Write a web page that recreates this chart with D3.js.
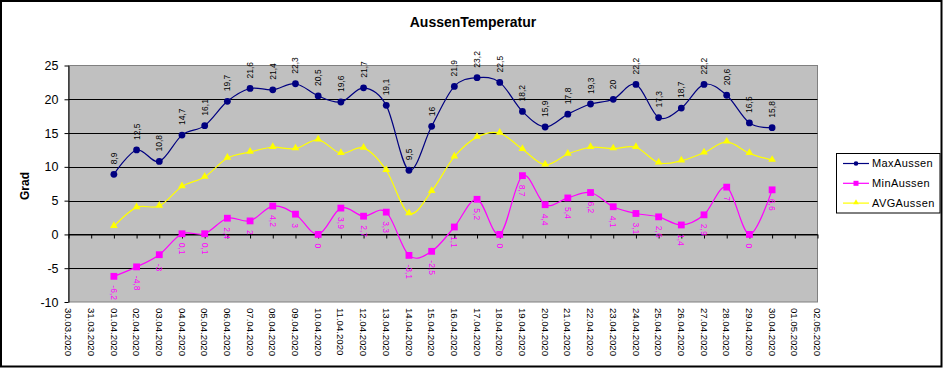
<!DOCTYPE html>
<html>
<head>
<meta charset="utf-8">
<script src="https://cdn.jsdelivr.net/npm/d3@7"></script>
<style>
  html, body { margin: 0; padding: 0; background: #fff; }
  svg { display: block; font-family: "Liberation Sans", Arial, sans-serif; }
</style>
</head>
<body>
<svg id="chart" width="943" height="368"></svg>
<script>
// ---- data ----
const dates = ["30.03.2020","31.03.2020","01.04.2020","02.04.2020","03.04.2020","04.04.2020","05.04.2020","06.04.2020","07.04.2020","08.04.2020","09.04.2020","10.04.2020","11.04.2020","12.04.2020","13.04.2020","14.04.2020","15.04.2020","16.04.2020","17.04.2020","18.04.2020","19.04.2020","20.04.2020","21.04.2020","22.04.2020","23.04.2020","24.04.2020","25.04.2020","26.04.2020","27.04.2020","28.04.2020","29.04.2020","30.04.2020","01.05.2020","02.05.2020"];
const dataDates = dates.slice(2, 32);
const maxAussen = [8.9,12.5,10.8,14.7,16.1,19.7,21.6,21.4,22.3,20.5,19.6,21.7,19.1,9.5,16,21.9,23.2,22.5,18.2,15.9,17.8,19.3,20,22.2,17.3,18.7,22.2,20.6,16.5,15.8];
const minAussen = [-6.2,-4.8,-3,0.1,0.1,2.4,2,4.2,3,0,3.9,2.7,3.3,-3.1,-2.5,1.1,5.2,0,8.7,4.4,5.4,6.2,4.1,3.1,2.6,1.4,2.9,7,0,6.6];
const avgAussen = [1.2,4.0,4.2,7.1,8.5,11.3,12.2,12.9,12.7,14.0,12.0,12.8,9.5,3.1,6.4,11.5,14.4,15.0,12.6,10.3,11.9,12.9,12.7,12.9,10.6,10.9,12.1,13.7,12.0,11.0];
const yTicks = [-10,-5,0,5,10,15,20,25];
const seriesNames = ["MaxAussen","MinAussen","AVGAussen"];
const seriesColors = ["#000080","#FF00FF","#FFFF00"];

// ---- layout ----
const svg = d3.select("#chart");
const L = 68.5, R = 817.5, T = 65.5, B = 302;
const x = d3.scalePoint().domain(dates).range([L, R]);
const y = d3.scaleLinear().domain([-10, 25]).range([B, T]);

// outer frame
svg.append("rect").attr("x", 1).attr("y", 1).attr("width", 940.5).attr("height", 365.5)
  .attr("fill", "#fff").attr("stroke", "#000").attr("stroke-width", 2);

// title
svg.append("text").attr("x", 473).attr("y", 27).attr("text-anchor", "middle")
  .attr("font-size", "14px").attr("font-weight", "bold").text("AussenTemperatur");

// plot area
svg.append("rect").attr("x", L).attr("y", T).attr("width", R - L).attr("height", B - T)
  .attr("fill", "#C0C0C0").attr("stroke", "#808080").attr("stroke-width", 1);

// gridlines
svg.append("g").selectAll("line").data(yTicks.filter(v => v > -10 && v < 25)).join("line")
  .attr("x1", L).attr("x2", R).attr("y1", d => Math.round(y(d)) + 0.5).attr("y2", d => Math.round(y(d)) + 0.5)
  .attr("stroke", "#000").attr("stroke-width", 1);

// y axis
const yAxis = d3.axisLeft(y).tickValues(yTicks).tickSize(4).tickSizeOuter(0).tickPadding(6)
  .tickFormat(d => d);
const gy = svg.append("g").attr("transform", `translate(${L},0)`).call(yAxis);
gy.selectAll("text").attr("font-size", "12.5px").attr("fill", "#000").attr("font-family", "Liberation Sans, Arial, sans-serif");
gy.selectAll("line,path").attr("stroke", "#000");

// x axis line at 0 with tick marks
const y0 = Math.round(y(0)) + 0.5;
const gx = svg.append("g").attr("transform", `translate(0,${y0})`)
  .call(d3.axisBottom(x).tickSize(4).tickSizeOuter(0).tickFormat(""));
gx.selectAll("line,path").attr("stroke", "#000");

// x labels at bottom, rotated
svg.append("g").selectAll("text").data(dates).join("text")
  .attr("transform", d => `translate(${x(d)},${B + 6}) rotate(90)`)
  .attr("dy", "0.35em").attr("font-size", "9.6px").attr("text-anchor", "start")
  .text(d => d);

// y axis title
svg.append("text").attr("transform", "translate(25,186) rotate(-90)")
  .attr("text-anchor", "middle").attr("dy", "0.35em")
  .attr("font-size", "12px").attr("font-weight", "bold").text("Grad");

// lines
const line = d3.line().x((d, i) => x(dataDates[i])).y(d => y(d)).curve(d3.curveCatmullRom.alpha(0));
const seriesData = [maxAussen, minAussen, avgAussen];
// draw order: avg, min, max (max on top)
[2, 1, 0].forEach(s => {
  svg.append("path").datum(seriesData[s]).attr("d", line)
    .attr("fill", "none").attr("stroke", seriesColors[s]).attr("stroke-width", 1.2);
});

const tri = d3.symbol().type(d3.symbolTriangle).size(26);
function drawMarkers(s, g, cx, cy) {
  if (s === 0) g.append("circle").attr("cx", cx).attr("cy", cy).attr("r", 3.4).attr("fill", seriesColors[0]);
  else if (s === 1) g.append("rect").attr("x", cx - 3.4).attr("y", cy - 3.4).attr("width", 6.8).attr("height", 6.8).attr("fill", seriesColors[1]);
  else g.append("path").attr("d", tri()).attr("transform", `translate(${cx},${cy - 0.5})`).attr("fill", seriesColors[2]);
}
[2, 1, 0].forEach(s => {
  const g = svg.append("g");
  seriesData[s].forEach((v, i) => drawMarkers(s, g, x(dataDates[i]), y(v)));
});

const fmt = v => String(v).replace(".", ",");
// max labels
svg.append("g").selectAll("text").data(maxAussen).join("text")
  .attr("transform", (d, i) => `translate(${x(dataDates[i])},${y(d) - 10}) rotate(-90)`)
  .attr("dy", "0.35em").attr("font-size", "8.5px").attr("fill", "#000").text(fmt);
// min labels
svg.append("g").selectAll("text").data(minAussen).join("text")
  .attr("transform", (d, i) => `translate(${x(dataDates[i])},${y(d) + 9}) rotate(90)`)
  .attr("dy", "0.35em").attr("font-size", "8.5px").attr("fill", "#FF00FF").text(fmt);

// legend
const lg = svg.append("g");
lg.append("rect").attr("x", 836.5).attr("y", 153.5).attr("width", 103.5).attr("height", 59.5)
  .attr("fill", "#fff").attr("stroke", "#000").attr("stroke-width", 1);
seriesNames.forEach((n, s) => {
  const ly = 163.5 + s * 19.8;
  lg.append("line").attr("x1", 843).attr("x2", 869).attr("y1", ly).attr("y2", ly)
    .attr("stroke", seriesColors[s]).attr("stroke-width", 1.2);
  if (s === 0) lg.append("circle").attr("cx", 856).attr("cy", ly).attr("r", 2.3).attr("fill", seriesColors[0]);
  else if (s === 1) lg.append("rect").attr("x", 853.5).attr("y", ly - 2.5).attr("width", 5).attr("height", 5).attr("fill", seriesColors[1]);
  else lg.append("path").attr("d", d3.symbol().type(d3.symbolTriangle).size(14)()).attr("transform", `translate(856,${ly - 0.5})`).attr("fill", seriesColors[2]);
  lg.append("text").attr("x", 872).attr("y", ly).attr("dy", "0.35em").attr("font-size", "11px")
    .attr("letter-spacing", "0.4px").text(n);
});
</script>
</body>
</html>
